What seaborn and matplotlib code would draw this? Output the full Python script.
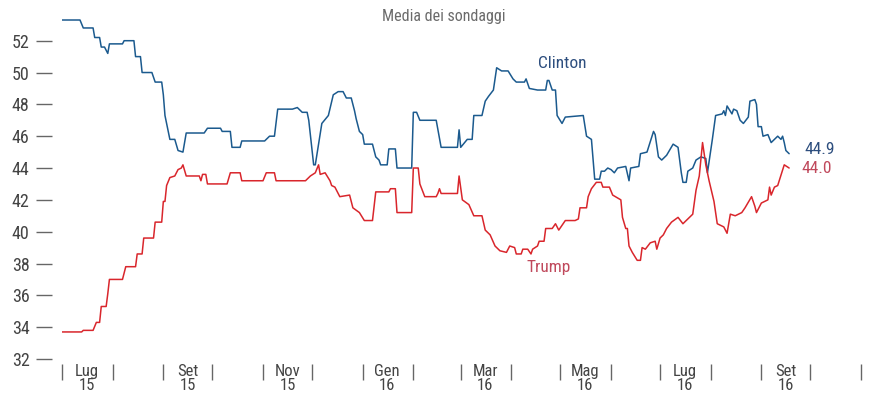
import pandas as pd
import matplotlib
matplotlib.use("Agg")
import matplotlib.pyplot as plt
import matplotlib.dates as mdates
import seaborn as sns

# Poll averages
clinton_dates = [
    "2015-07-01", "2015-07-12", "2015-07-14", "2015-07-20", "2015-07-21", "2015-07-24", "2015-07-25", "2015-07-27", "2015-07-29", "2015-07-30",
    "2015-08-07", "2015-08-08", "2015-08-14", "2015-08-15", "2015-08-18", "2015-08-19", "2015-08-25", "2015-08-27", "2015-08-31", "2015-09-01",
    "2015-09-02", "2015-09-05", "2015-09-08", "2015-09-10", "2015-09-13", "2015-09-15", "2015-09-26", "2015-09-28", "2015-10-06", "2015-10-07",
    "2015-10-12", "2015-10-13", "2015-10-18", "2015-10-19", "2015-11-02", "2015-11-05", "2015-11-08", "2015-11-10", "2015-11-19", "2015-11-22",
    "2015-11-25", "2015-11-28", "2015-11-29", "2015-12-02", "2015-12-03", "2015-12-07", "2015-12-11", "2015-12-14", "2015-12-17", "2015-12-20",
    "2015-12-22", "2015-12-25", "2015-12-27", "2015-12-28", "2015-12-30", "2016-01-01", "2016-01-02", "2016-01-07", "2016-01-09", "2016-01-11",
    "2016-01-12", "2016-01-16", "2016-01-17", "2016-01-21", "2016-01-22", "2016-01-31", "2016-02-01", "2016-02-03", "2016-02-05", "2016-02-15",
    "2016-02-18", "2016-02-28", "2016-02-29", "2016-03-01", "2016-03-05", "2016-03-08", "2016-03-09", "2016-03-14", "2016-03-16", "2016-03-18",
    "2016-03-21", "2016-03-23", "2016-03-26", "2016-03-30", "2016-04-02", "2016-04-04", "2016-04-09", "2016-04-10", "2016-04-12", "2016-04-17",
    "2016-04-22", "2016-04-23", "2016-04-24", "2016-04-26", "2016-04-28", "2016-04-29", "2016-05-02", "2016-05-04", "2016-05-15", "2016-05-17",
    "2016-05-20", "2016-05-22", "2016-05-25", "2016-05-26", "2016-05-28", "2016-05-30", "2016-06-01", "2016-06-03", "2016-06-05", "2016-06-10",
    "2016-06-12", "2016-06-13", "2016-06-18", "2016-06-19", "2016-06-23", "2016-06-27", "2016-06-28", "2016-06-30", "2016-07-02", "2016-07-05",
    "2016-07-09", "2016-07-12", "2016-07-14", "2016-07-15", "2016-07-17", "2016-07-18", "2016-07-21", "2016-07-23", "2016-07-26", "2016-07-29",
    "2016-07-30", "2016-08-02", "2016-08-04", "2016-08-08", "2016-08-09", "2016-08-10", "2016-08-11", "2016-08-14", "2016-08-15", "2016-08-17",
    "2016-08-18", "2016-08-19", "2016-08-21", "2016-08-24", "2016-08-25", "2016-08-28", "2016-08-29", "2016-08-30", "2016-09-01", "2016-09-02",
    "2016-09-05", "2016-09-07", "2016-09-11", "2016-09-13", "2016-09-14", "2016-09-15", "2016-09-16", "2016-09-18",
]
clinton_vals = [
    53.3, 53.3, 52.8, 52.8, 52.2, 52.2, 51.6, 51.6, 51.2, 51.8,
    51.8, 52.0, 52.0, 51.0, 51.0, 50.0, 50.0, 49.4, 49.4, 48.6,
    47.3, 45.8, 45.8, 45.1, 45.0, 46.2, 46.2, 46.5, 46.5, 46.3,
    46.3, 45.3, 45.3, 45.7, 45.7, 46.0, 46.0, 47.7, 47.7, 47.8,
    47.5, 47.5, 47.0, 44.2, 44.2, 46.8, 47.3, 48.6, 48.8, 48.8,
    48.4, 48.4, 47.6, 47.1, 46.3, 46.1, 45.5, 45.5, 44.7, 44.5,
    44.2, 44.2, 45.2, 45.2, 44.0, 44.0, 47.5, 47.5, 47.0, 47.0,
    45.3, 45.3, 46.4, 45.3, 45.8, 45.8, 47.3, 47.3, 48.2, 48.5,
    48.9, 50.3, 50.1, 50.1, 49.6, 49.4, 49.4, 49.6, 49.0, 48.9,
    48.9, 49.5, 49.5, 48.9, 48.9, 47.3, 46.8, 47.2, 47.3, 46.0,
    45.8, 43.3, 43.3, 43.8, 43.8, 44.0, 43.9, 43.7, 44.0, 44.1,
    43.2, 44.0, 44.1, 44.9, 45.0, 46.3, 46.1, 44.7, 44.5, 44.8,
    45.5, 45.3, 43.7, 43.1, 43.1, 43.8, 44.0, 44.5, 44.7, 44.6,
    43.7, 45.8, 47.3, 47.4, 47.6, 47.3, 47.9, 47.4, 47.7, 47.6,
    47.3, 47.0, 46.8, 47.2, 48.2, 48.3, 48.0, 46.6, 46.6, 46.0,
    46.1, 45.6, 46.0, 45.8, 46.0, 45.6, 45.1, 44.9,
]

trump_dates = [
    "2015-07-01", "2015-07-13", "2015-07-14", "2015-07-20", "2015-07-22", "2015-07-24", "2015-07-25", "2015-07-28", "2015-07-29", "2015-07-30",
    "2015-08-07", "2015-08-09", "2015-08-15", "2015-08-16", "2015-08-19", "2015-08-20", "2015-08-26", "2015-08-27", "2015-08-31", "2015-09-01",
    "2015-09-02", "2015-09-03", "2015-09-05", "2015-09-08", "2015-09-10", "2015-09-12", "2015-09-13", "2015-09-15", "2015-09-23", "2015-09-24",
    "2015-09-25", "2015-09-27", "2015-09-28", "2015-10-10", "2015-10-12", "2015-10-18", "2015-10-19", "2015-11-01", "2015-11-03", "2015-11-08",
    "2015-11-09", "2015-11-27", "2015-11-30", "2015-12-03", "2015-12-05", "2015-12-06", "2015-12-09", "2015-12-12", "2015-12-13", "2015-12-15",
    "2015-12-18", "2015-12-24", "2015-12-26", "2015-12-30", "2016-01-02", "2016-01-07", "2016-01-09", "2016-01-17", "2016-01-18", "2016-01-21",
    "2016-01-22", "2016-01-31", "2016-02-01", "2016-02-04", "2016-02-05", "2016-02-08", "2016-02-15", "2016-02-16", "2016-02-17", "2016-02-18",
    "2016-02-28", "2016-02-29", "2016-03-02", "2016-03-06", "2016-03-09", "2016-03-14", "2016-03-16", "2016-03-19", "2016-03-22", "2016-03-25",
    "2016-03-29", "2016-03-31", "2016-04-03", "2016-04-04", "2016-04-07", "2016-04-08", "2016-04-11", "2016-04-13", "2016-04-14", "2016-04-17",
    "2016-04-18", "2016-04-21", "2016-04-22", "2016-04-26", "2016-04-28", "2016-04-30", "2016-05-04", "2016-05-10", "2016-05-12", "2016-05-13",
    "2016-05-17", "2016-05-18", "2016-05-20", "2016-05-23", "2016-05-26", "2016-05-27", "2016-05-31", "2016-06-02", "2016-06-07", "2016-06-08",
    "2016-06-10", "2016-06-11", "2016-06-12", "2016-06-14", "2016-06-17", "2016-06-19", "2016-06-20", "2016-06-22", "2016-06-25", "2016-06-28",
    "2016-06-29", "2016-07-01", "2016-07-03", "2016-07-05", "2016-07-08", "2016-07-12", "2016-07-15", "2016-07-17", "2016-07-21", "2016-07-23",
    "2016-07-25", "2016-07-27", "2016-07-29", "2016-07-31", "2016-08-03", "2016-08-05", "2016-08-09", "2016-08-11", "2016-08-13", "2016-08-16",
    "2016-08-20", "2016-08-22", "2016-08-26", "2016-08-28", "2016-08-29", "2016-09-01", "2016-09-05", "2016-09-06", "2016-09-07", "2016-09-09",
    "2016-09-11", "2016-09-15", "2016-09-18",
]
trump_vals = [
    33.7, 33.7, 33.8, 33.8, 34.3, 34.3, 35.3, 35.3, 36.1, 37.0,
    37.0, 37.8, 37.8, 38.6, 38.6, 39.6, 39.6, 40.6, 40.6, 41.9,
    41.9, 42.9, 43.4, 43.5, 43.9, 44.0, 44.2, 43.5, 43.5, 43.2,
    43.6, 43.6, 43.0, 43.0, 43.7, 43.7, 43.2, 43.2, 43.7, 43.7,
    43.2, 43.2, 43.5, 43.7, 44.2, 43.6, 43.7, 43.2, 42.9, 42.8,
    42.2, 42.3, 41.5, 41.2, 40.7, 40.7, 42.5, 42.5, 42.7, 42.7,
    41.2, 41.2, 44.0, 44.0, 43.0, 42.2, 42.2, 42.4, 42.7, 42.4,
    42.4, 43.5, 42.0, 41.7, 41.0, 41.0, 40.1, 39.8, 39.1, 38.8,
    38.7, 39.1, 39.0, 38.6, 38.6, 38.9, 38.9, 38.6, 38.9, 39.1,
    39.4, 39.4, 40.2, 40.2, 40.5, 40.1, 40.7, 40.7, 40.8, 41.5,
    41.5, 42.2, 42.7, 43.1, 43.1, 42.8, 42.8, 42.3, 42.0, 40.9,
    40.2, 40.2, 39.1, 38.7, 38.2, 38.2, 39.0, 38.9, 39.3, 39.4,
    38.9, 39.6, 39.8, 40.2, 40.6, 40.9, 40.5, 40.7, 41.1, 42.6,
    43.5, 45.6, 44.2, 43.2, 41.9, 40.5, 40.3, 39.9, 41.1, 41.0,
    41.2, 41.5, 42.2, 41.6, 41.2, 41.8, 42.0, 42.8, 42.3, 42.8,
    42.9, 44.2, 44.0,
]

y_ticks = [32, 34, 36, 38, 40, 42, 44, 46, 48, 50, 52]
label_dates = ["2015-07-16", "2015-09-16", "2015-11-16", "2016-01-16",
               "2016-03-16", "2016-05-16", "2016-07-16", "2016-09-16"]
label_texts = ["Lug\n15", "Set\n15", "Nov\n15", "Gen\n16",
               "Mar\n16", "Mag\n16", "Lug\n16", "Set\n16"]

colors = {"Clinton": "#1b5a8e", "Trump": "#d9262c"}
text_colors = {"Clinton": "#2d4e7e", "Trump": "#c0495c"}

df = pd.concat([
    pd.DataFrame({"date": pd.to_datetime(clinton_dates), "value": clinton_vals, "candidate": "Clinton"}),
    pd.DataFrame({"date": pd.to_datetime(trump_dates), "value": trump_vals, "candidate": "Trump"}),
], ignore_index=True)

sns.set_style("white")
plt.rcParams["font.family"] = ["Roboto Condensed", "DejaVu Sans"]

fig = plt.figure(figsize=(8.7, 3.94), dpi=100)
ax = fig.add_axes([0.0713, 0.0767, 0.9184, 0.9008])

sns.lineplot(data=df, x="date", y="value", hue="candidate", palette=colors,
             estimator=None, sort=False, legend=False, lw=1.1, ax=ax)

ax.set_xlim(pd.Timestamp("2015-07-01"), pd.Timestamp("2016-11-01"))
ax.set_ylim(31.7, 54)
ax.set_xlabel("")
ax.set_ylabel("")
for s in ax.spines.values():
    s.set_visible(False)
ax.spines["left"].set_position(("outward", 7.2))

# y axis: dash ticks
ax.set_yticks(y_ticks)
ax.tick_params(axis="y", which="major", left=True, length=11.2, width=1.0,
               color="#666666", pad=5, labelsize=13, labelcolor="#444444")

# x axis: bars at month starts, labels mid-month
ax.xaxis.set_minor_locator(mdates.MonthLocator())
ax.set_xticks(mdates.date2num(pd.to_datetime(label_dates)))
ax.set_xticklabels(label_texts, linespacing=0.9)
ax.tick_params(axis="x", which="minor", bottom=True, length=11.5, width=1.0,
               color="#666666")
ax.tick_params(axis="x", which="major", bottom=True, length=0, pad=0,
               labelsize=12, labelcolor="#444444")

fig.text(0.51, 1 - 17 / 394, "Media dei sondaggi", ha="center", va="center",
         color="#6b6b6b", fontsize=11.5)

ax.text(pd.Timestamp("2016-04-17"), 50.26, "Clinton", color=text_colors["Clinton"],
        fontsize=12.5, ha="left", va="baseline")
ax.text(pd.Timestamp("2016-04-10"), 37.47, "Trump", color=text_colors["Trump"],
        fontsize=12.5, ha="left", va="baseline")

ax.annotate(f"{clinton_vals[-1]:.1f}", (pd.Timestamp(clinton_dates[-1]), clinton_vals[-1]),
            xytext=(10.8, 2.9), textcoords="offset points", ha="left", va="center",
            color=text_colors["Clinton"], fontsize=12.5)
ax.annotate(f"{trump_vals[-1]:.1f}", (pd.Timestamp(trump_dates[-1]), trump_vals[-1]),
            xytext=(8.6, 0), textcoords="offset points", ha="left", va="center",
            color=text_colors["Trump"], fontsize=12.5)

fig.savefig("out.png", dpi=100)
